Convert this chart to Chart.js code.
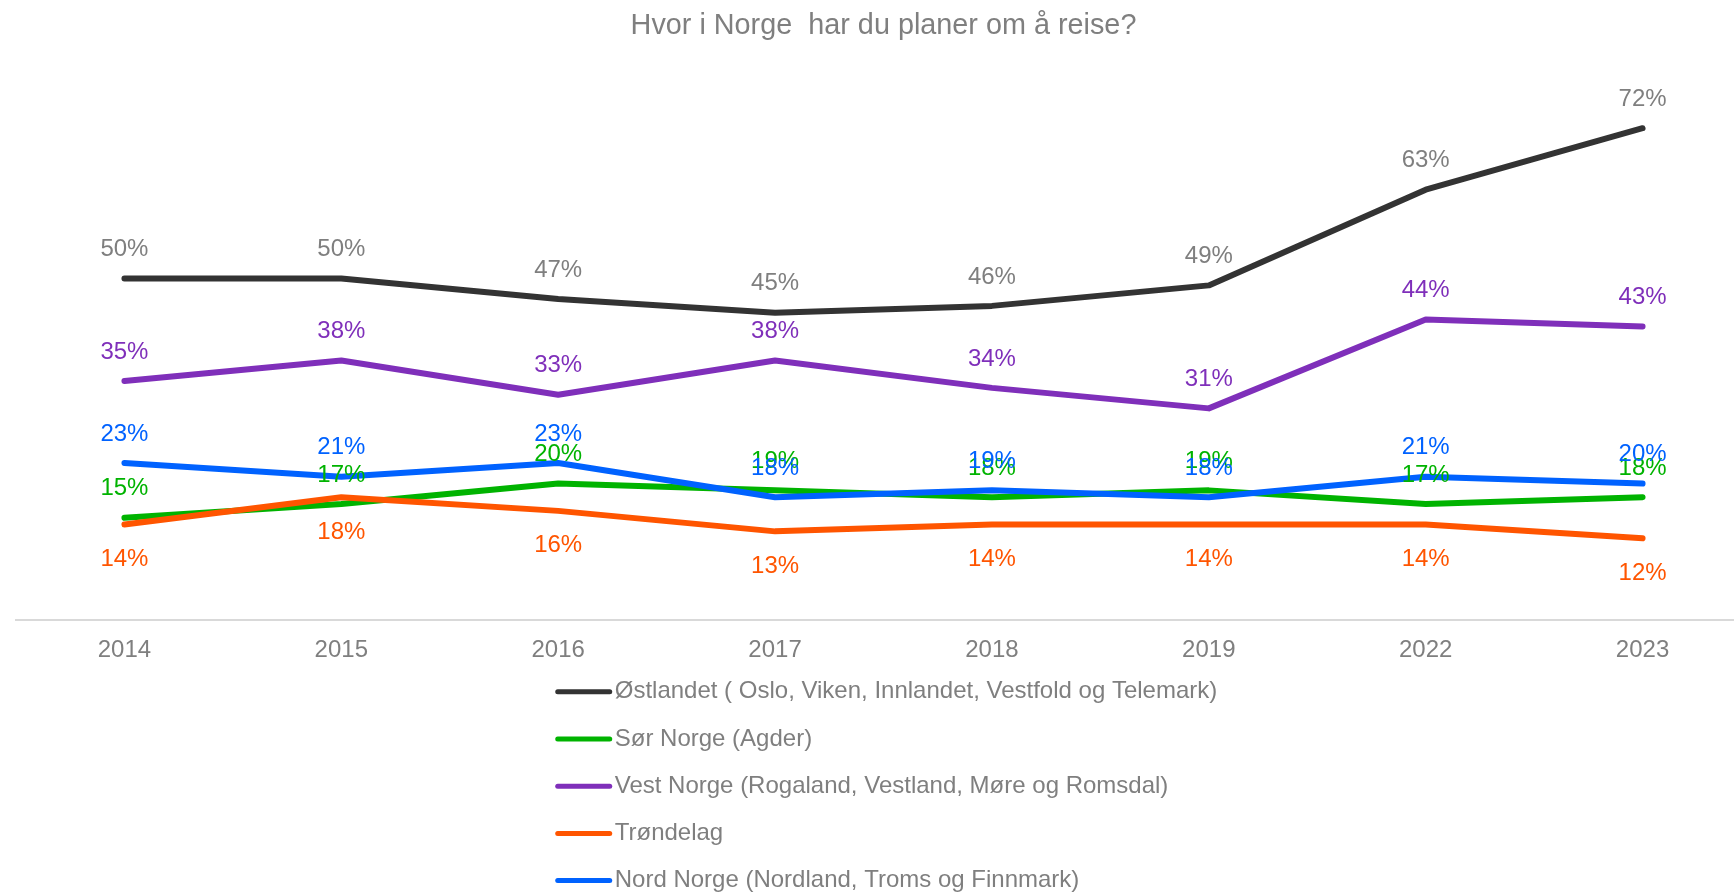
<!DOCTYPE html>
<html>
<head>
<meta charset="utf-8">
<script src="https://cdn.jsdelivr.net/npm/chart.js@4/dist/chart.umd.min.js"></script>
<style>
    html, body { margin: 0; padding: 0; background: #fff; overflow: hidden; }
    #wrap { width: 1767px; height: 892px; position: relative; }
</style>
</head>
<body>
<div id="wrap"><canvas id="reiseChart"></canvas></div>
<script>
// data (prosent)
const years = ['2014', '2015', '2016', '2017', '2018', '2019', '2022', '2023'];
const ostlandet = [50, 50, 47, 45, 46, 49, 63, 72];
const sorNorge = [15, 17, 20, 19, 18, 19, 17, 18];
const vestNorge = [35, 38, 33, 38, 34, 31, 44, 43];
const trondelag = [14, 18, 16, 13, 14, 14, 14, 12];
const nordNorge = [23, 21, 23, 18, 19, 18, 21, 20];

const seriesNames = [
    'Østlandet ( Oslo, Viken, Innlandet, Vestfold og Telemark)',
    'Sør Norge (Agder)',
    'Vest Norge (Rogaland, Vestland, Møre og Romsdal)',
    'Trøndelag',
    'Nord Norge (Nordland, Troms og Finnmark)'
];
const seriesValues = [ostlandet, sorNorge, vestNorge, trondelag, nordNorge];
const lineColors = ['#333333', '#00b300', '#7f2fba', '#ff5500', '#0062ff'];
const labelColors = ['#7f7f7f', '#00b300', '#7f2fba', '#ff5500', '#0062ff'];
const labelBelow = [false, false, false, true, false];

const FONT = '"Liberation Sans", Arial, sans-serif';
const GREY = '#7f7f7f';

// etiketter over/under punktene
const pointLabels = {
    id: 'pointLabels',
    afterDatasetsDraw(chart) {
        const ctx = chart.ctx;
        ctx.save();
        ctx.font = '24px ' + FONT;
        ctx.textAlign = 'center';
        ctx.textBaseline = 'middle';
        chart.data.datasets.forEach((ds, i) => {
            const meta = chart.getDatasetMeta(i);
            ctx.fillStyle = labelColors[i];
            meta.data.forEach((pt, j) => {
                const y = labelBelow[i] ? pt.y + 35 : pt.y - 29;
                ctx.fillText(ds.data[j] + '%', pt.x, y);
            });
        });
        ctx.restore();
    }
};

// legenden tegnes selv, en linje per serie
const listLegend = {
    id: 'listLegend',
    afterDraw(chart) {
        const ctx = chart.ctx;
        const area = chart.chartArea;
        ctx.save();
        ctx.font = '24px ' + FONT;
        const sample = 56, gap = 3;
        let widest = 0;
        chart.data.datasets.forEach(ds => {
            widest = Math.max(widest, ctx.measureText(ds.label).width);
        });
        const x0 = (area.left + area.right) / 2 - (sample + gap + widest) / 2 + 3;
        chart.data.datasets.forEach((ds, i) => {
            const y = area.bottom + 71.6 + i * 47.2;
            ctx.strokeStyle = ds.borderColor;
            ctx.lineWidth = 5;
            ctx.lineCap = 'round';
            ctx.beginPath();
            ctx.moveTo(x0 + 2, y);
            ctx.lineTo(x0 + sample - 2, y);
            ctx.stroke();
            ctx.fillStyle = GREY;
            ctx.textAlign = 'left';
            ctx.textBaseline = 'middle';
            ctx.fillText(ds.label, x0 + sample + gap, y);
        });
        ctx.restore();
    }
};

new Chart(document.getElementById('reiseChart'), {
    type: 'line',
    data: {
        labels: years,
        datasets: seriesValues.map((vals, i) => ({
            label: seriesNames[i],
            data: vals,
            borderColor: lineColors[i],
            backgroundColor: lineColors[i],
            borderWidth: 6,
            borderCapStyle: 'round',
            borderJoinStyle: 'round',
            pointRadius: 0,
            tension: 0,
            order: seriesValues.length - i
        }))
    },
    options: {
        responsive: true,
        maintainAspectRatio: false,
        animation: false,
        layout: { padding: { left: 16, right: 16, top: 0, bottom: 211 } },
        plugins: {
            legend: { display: false },
            tooltip: { enabled: false },
            title: {
                display: true,
                text: 'Hvor i Norge  har du planer om å reise?',
                color: GREY,
                font: { family: FONT, size: 28.8, weight: 'normal' },
                padding: { top: 9, bottom: 30 }
            }
        },
        scales: {
            x: {
                offset: true,
                grid: { display: false, drawTicks: false, tickLength: 0 },
                border: { display: true, color: '#d9d9d9', width: 2 },
                ticks: {
                    color: GREY,
                    padding: 16,
                    font: { family: FONT, size: 24 }
                }
            },
            y: {
                display: false,
                min: 0,
                max: 80
            }
        }
    },
    plugins: [pointLabels, listLegend]
});
</script>
</body>
</html>
